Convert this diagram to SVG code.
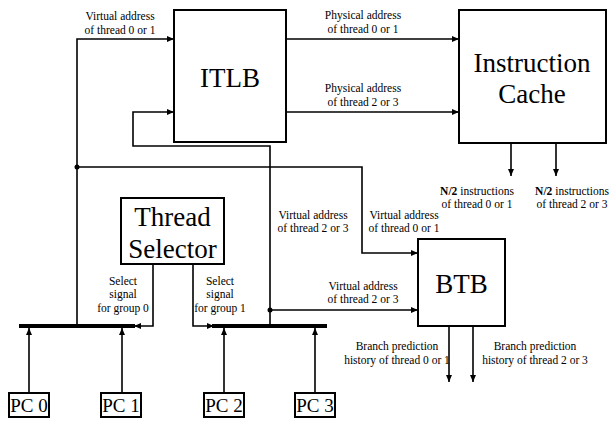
<svg xmlns="http://www.w3.org/2000/svg" width="611" height="421" viewBox="0 0 611 421">
  <defs>
    <marker id="arrow" markerUnits="userSpaceOnUse" markerWidth="7" markerHeight="6" refX="7" refY="3" orient="auto">
      <path d="M0,0 L7,3 L0,6 z" fill="#000"/>
    </marker>
    <style>
      .box { fill: #fff; stroke: #000; stroke-width: 2; }
      .big { font-family: "Liberation Serif", "Times New Roman", serif; font-size: 27px; text-anchor: middle; fill: #000; }
      .pc { font-family: "Liberation Serif", "Times New Roman", serif; font-size: 19px; text-anchor: middle; fill: #000; }
      .lbl { font-family: "Liberation Serif", "Times New Roman", serif; font-size: 11.5px; text-anchor: middle; fill: #000; }
      .wire { fill: none; stroke: #000; stroke-width: 1.6; }
      .arr { marker-end: url(#arrow); }
      .bus { fill: none; stroke: #000; stroke-width: 4; }
      .dot { fill: #000; }
    </style>
  </defs>
  <rect width="611" height="421" fill="#fff"/>

  <!-- wires -->
  <g id="connectors">
    <!-- group 0 address into ITLB -->
    <path class="wire arr" d="M77,326 V39 H174"/>
    <!-- group 1 address looping back into ITLB -->
    <path class="wire arr" d="M270,326 V146 H133 V112 H174"/>
    <!-- group 0 address to BTB -->
    <path class="wire arr" d="M77,167 H362 V253 H418"/>
    <!-- group 1 address to BTB -->
    <path class="wire arr" d="M270,310 H418"/>
    <circle class="dot" cx="77" cy="167" r="2.5"/>
    <circle class="dot" cx="270" cy="310" r="2.5"/>
    <!-- ITLB to instruction cache -->
    <path class="wire arr" d="M286,39 H459"/>
    <path class="wire arr" d="M286,112 H459"/>
    <!-- cache outputs -->
    <path class="wire arr" d="M511,143 V176"/>
    <path class="wire arr" d="M556,143 V176"/>
    <!-- BTB outputs -->
    <path class="wire arr" d="M449,326 V382"/>
    <path class="wire arr" d="M473,326 V382"/>
    <!-- select signals -->
    <path class="wire arr" d="M153,264 V326 H134"/>
    <path class="wire arr" d="M193,264 V326 H214"/>
    <!-- PC buses -->
    <path class="bus" d="M19,326 H135"/>
    <path class="bus" d="M212,326 H327"/>
    <!-- PC registers into buses -->
    <path class="wire arr" d="M29,393 V328"/>
    <path class="wire arr" d="M122,393 V328"/>
    <path class="wire arr" d="M224,393 V328"/>
    <path class="wire arr" d="M315,393 V328"/>
  </g>

  <!-- labels on wires -->
  <g id="labels">
    <text class="lbl" x="120" y="20">Virtual address</text>
    <text class="lbl" x="120" y="34">of thread 0 or 1</text>
    <text class="lbl" x="363" y="19">Physical address</text>
    <text class="lbl" x="363" y="33">of thread 0 or 1</text>
    <text class="lbl" x="363" y="92">Physical address</text>
    <text class="lbl" x="363" y="106">of thread 2 or 3</text>
    <text class="lbl" x="477" y="195"><tspan font-weight="bold">N/2</tspan> instructions</text>
    <text class="lbl" x="477" y="208">of thread 0 or 1</text>
    <text class="lbl" x="572" y="195"><tspan font-weight="bold">N/2</tspan> instructions</text>
    <text class="lbl" x="572" y="208">of thread 2 or 3</text>
    <text class="lbl" x="313" y="219">Virtual address</text>
    <text class="lbl" x="313" y="232">of thread 2 or 3</text>
    <text class="lbl" x="404" y="219">Virtual address</text>
    <text class="lbl" x="404" y="232">of thread 0 or 1</text>
    <text class="lbl" x="363" y="290">Virtual address</text>
    <text class="lbl" x="363" y="303">of thread 2 or 3</text>
    <text class="lbl" x="123" y="285">Select</text>
    <text class="lbl" x="123" y="298">signal</text>
    <text class="lbl" x="123" y="312">for group 0</text>
    <text class="lbl" x="220" y="285">Select</text>
    <text class="lbl" x="220" y="298">signal</text>
    <text class="lbl" x="220" y="312">for group 1</text>
    <text class="lbl" x="397" y="350">Branch prediction</text>
    <text class="lbl" x="397" y="364">history of thread 0 or 1</text>
    <text class="lbl" x="535" y="350">Branch prediction</text>
    <text class="lbl" x="535" y="364">history of thread 2 or 3</text>
  </g>

  <g id="itlb">
    <rect class="box" x="174" y="10" width="112" height="132"/>
    <text class="big" x="230" y="87">ITLB</text>
  </g>
  <g id="icache">
    <rect class="box" x="459" y="10" width="147" height="133"/>
    <text class="big" x="532" y="72">Instruction</text>
    <text class="big" x="532" y="103">Cache</text>
  </g>
  <g id="thread-selector">
    <rect class="box" x="121" y="198" width="103" height="66"/>
    <text class="big" x="172.5" y="226">Thread</text>
    <text class="big" x="172.5" y="258">Selector</text>
  </g>
  <g id="btb">
    <rect class="box" x="418" y="239" width="87" height="87"/>
    <text class="big" x="461.5" y="293">BTB</text>
  </g>
  <g id="pc0">
    <rect class="box" x="9" y="393" width="40" height="24"/>
    <text class="pc" x="29" y="412">PC 0</text>
  </g>
  <g id="pc1">
    <rect class="box" x="101" y="393" width="40" height="24"/>
    <text class="pc" x="121" y="412">PC 1</text>
  </g>
  <g id="pc2">
    <rect class="box" x="204" y="393" width="40" height="24"/>
    <text class="pc" x="224" y="412">PC 2</text>
  </g>
  <g id="pc3">
    <rect class="box" x="295" y="393" width="40" height="24"/>
    <text class="pc" x="315" y="412">PC 3</text>
  </g>
</svg>
